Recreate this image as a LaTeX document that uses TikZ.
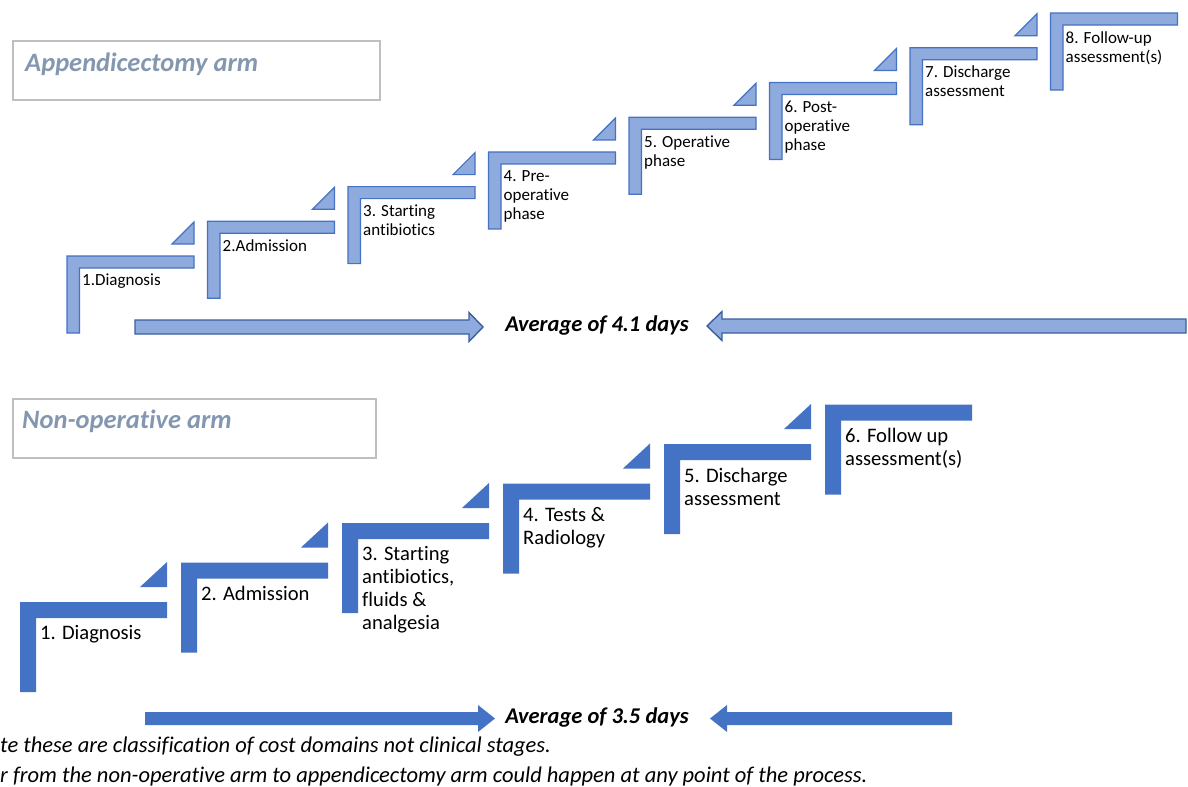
\documentclass[tikz,border=0pt]{standalone}
\usepackage{fontspec}
\setmainfont{Carlito}[Ligatures=NoCommon]
\usepackage{tikz}
\definecolor{penColor}{HTML}{4472C4}
\definecolor{fillLight}{HTML}{8FAADC}
\definecolor{arrowEdge}{HTML}{3A5F9E}
\definecolor{titleColor}{HTML}{8497B0}
\definecolor{boxColor}{HTML}{BFBFBF}
\tikzset{
  topStep/.style={draw=penColor,fill=fillLight,line width=1.2bp},
  lowStep/.style={fill=penColor},
  topArrow/.style={draw=arrowEdge,fill=fillLight,line width=1.4bp,line join=miter},
  lowArrow/.style={fill=penColor},
  topLabel/.style={anchor=north west,inner sep=0pt,align=left,
    font=\fontsize{17bp}{19bp}\selectfont},
  lowLabel/.style={anchor=north west,inner sep=0pt,align=left,
    font=\fontsize{20.6bp}{23bp}\selectfont},
  avgLabel/.style={inner sep=0pt,font=\fontsize{22.5bp}{26bp}\selectfont\bfseries\itshape},
  titleBox/.style={draw=boxColor,line width=1.6bp},
  titleLabel/.style={anchor=west,inner sep=0pt,text=titleColor,
    font=\fontsize{26.5bp}{30bp}\selectfont\bfseries\itshape},
  noteLabel/.style={anchor=west,inner sep=0pt,font=\fontsize{22.5bp}{26bp}\selectfont\itshape}
}
\begin{document}
\begin{tikzpicture}[x=1bp,y=-1bp]
  \useasboundingbox (0,0) rectangle (1188,787);

  % appendicectomy arm
  \draw[titleBox] (13,41) rectangle (380,100);
  \node[titleLabel] (titleTop) at (25,64) {Appendicectomy arm};
  \foreach \i/\txt in {1/{1.Diagnosis},2/{2.Admission},3/{3. Starting\\antibiotics},
      4/{4. Pre-\\operative\\phase},5/{5. Operative\\phase},6/{6. Post-\\operative\\phase},
      7/{7. Discharge\\assessment},8/{8. Follow-up\\assessment(s)}}{
    \pgfmathsetmacro\L{67+140.5*(\i-1)}
    \pgfmathsetmacro\T{256-34.7*(\i-1)}
    \draw[topStep] (\L,\T) -- ++(127,0) -- ++(0,12) -- ++(-114.5,0) -- ++(0,65)
      -- ++(-12.5,0) -- cycle;
    \ifnum\i<8
      \draw[topStep] (\L+105,\T-12) -- ++(22,0) -- ++(0,-22) -- cycle;
    \fi
    \node[topLabel] (top\i) at (\L+15,\T+18) {\txt};
  }
  \draw[topArrow] (135,320) -- (469,320) -- (469,312.5) -- (483,327) -- (469,341.5)
    -- (469,334) -- (135,334) -- cycle;
  \draw[topArrow] (1186,319) -- (722,319) -- (722,311.5) -- (707,326) -- (722,340.5)
    -- (722,333) -- (1186,333) -- cycle;
  \node[avgLabel] (avgTop) at (597,325) {Average of 4.1 days};

  % non-operative arm
  \draw[titleBox] (13,399) rectangle (376,458);
  \node[titleLabel] (titleLow) at (22,421) {Non-operative arm};
  \foreach \i/\txt in {1/{1. Diagnosis},2/{2. Admission},
      3/{3. Starting\\antibiotics,\\fluids \&\\analgesia},4/{4. Tests \&\\Radiology},
      5/{5. Discharge\\assessment},6/{6. Follow up\\assessment(s)}}{
    \pgfmathsetmacro\L{20+161*(\i-1)}
    \pgfmathsetmacro\T{602-39.5*(\i-1)}
    \fill[lowStep] (\L,\T) -- ++(147,0) -- ++(0,16) -- ++(-131,0) -- ++(0,74)
      -- ++(-16,0) -- cycle;
    \ifnum\i<6
      \fill[lowStep] (\L+120,\T-15) -- ++(27,0) -- ++(0,-25) -- cycle;
    \fi
    \node[lowLabel] (low\i) at (\L+20,\T+23.5) {\txt};
  }
  \fill[lowArrow] (145,712) -- (478,712) -- (478,705) -- (495,718.5) -- (478,732)
    -- (478,725) -- (145,725) -- cycle;
  \fill[lowArrow] (952,712) -- (727,712) -- (727,705) -- (710,718.5) -- (727,732)
    -- (727,725) -- (952,725) -- cycle;
  \node[avgLabel] (avgLow) at (597,717) {Average of 3.5 days};

  % notes
  \node[noteLabel] (noteA) at (0,747) {te these are classification of cost domains not clinical stages.};
  \node[noteLabel] (noteB) at (0,776) {r from the non-operative arm to appendicectomy arm could happen at any point of the process.};
\end{tikzpicture}
\end{document}
